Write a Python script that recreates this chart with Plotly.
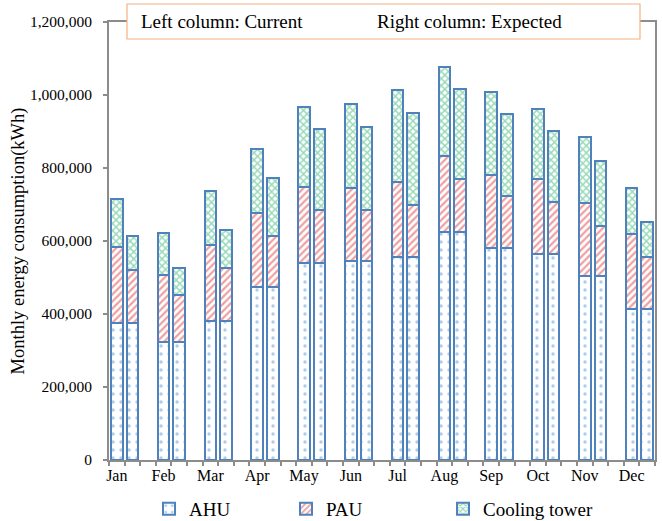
import plotly.graph_objects as go

months = ["Jan", "Feb", "Mar", "Apr", "May", "Jun", "Jul", "Aug", "Sep", "Oct", "Nov", "Dec"]

# kWh (AHU is the same in both columns)
ahu = [376000, 322000, 382000, 474000, 541000, 546000, 556000, 625000, 582000, 564000, 504000, 414000]
pau_current = [207000, 186000, 206000, 202000, 207000, 198000, 205000, 207000, 200000, 206000, 199000, 205000]
pau_expected = [145000, 129000, 145000, 140000, 144000, 139000, 142000, 144000, 140000, 144000, 138000, 143000]
ct_current = [131000, 113000, 150000, 176000, 220000, 230000, 254000, 246000, 227000, 193000, 182000, 125000]
ct_expected = [93000, 75000, 103000, 159000, 221000, 228000, 254000, 247000, 227000, 194000, 176000, 94000]

series_names = ["AHU", "PAU", "Cooling tower"]

# positions: current column, expected column, empty slot per month
x_pos = []
for m in range(len(months)):
    x_pos += [3 * m, 3 * m + 1]


def interleave(cur, exp):
    out = []
    for a, b in zip(cur, exp):
        out += [a, b]
    return out


ahu_vals = interleave(ahu, ahu)
pau_vals = interleave(pau_current, pau_expected)
ct_vals = interleave(ct_current, ct_expected)

border = "#4F81BD"
font_family = "Liberation Serif, Times New Roman, serif"

fig = go.Figure()
styles = [
    (ahu_vals, dict(shape=".", fgcolor="#5B9BD5", bgcolor="white", size=8, solidity=0.15), "legend"),
    (pau_vals, dict(shape="/", fgcolor="#E04040", bgcolor="white", size=5, solidity=0.45), "legend2"),
    (ct_vals, dict(shape="x", fgcolor="#35B572", bgcolor="white", size=5, solidity=0.5), "legend3"),
]
for name, (vals, pat, lg) in zip(series_names, styles):
    fig.add_trace(go.Bar(
        x=x_pos, y=vals, name=name, width=0.74, showlegend=True,
        marker=dict(color="white", pattern=pat, line=dict(color=border, width=2)),
        legend=lg,
    ))

axis_gray = "#8C8C8C"
PLOT_L, PLOT_W, PLOT_B, PLOT_H = 109, 546, 460, 438


def px_x(px):
    return (px - PLOT_L) / PLOT_W


def px_y(py):
    return (PLOT_B - py) / PLOT_H


leg_common = dict(y=px_y(509), xanchor="left", yanchor="middle",
                  font=dict(size=19), bgcolor="rgba(0,0,0,0)")
fig.update_layout(
    width=662, height=521,
    margin=dict(l=109, r=7, t=22, b=61, autoexpand=False),
    barmode="stack",
    showlegend=True,
    plot_bgcolor="white", paper_bgcolor="white",
    font=dict(family=font_family, color="black", size=15.5),
    xaxis=dict(
        range=[-0.5, 34.5],
        tickmode="array", tickvals=[3 * m for m in range(len(months))], ticktext=months,
        ticks="", showgrid=False, zeroline=False,
        showline=True, linecolor=axis_gray, linewidth=2, mirror=True,
        tickfont=dict(size=16),
        minor=dict(tickmode="linear", tick0=-0.5, dtick=1, ticks="outside", ticklen=4,
                   tickcolor=axis_gray, tickwidth=1.5, showgrid=False),
    ),
    yaxis=dict(
        range=[0, 1200000], dtick=200000, tickformat=",",
        ticks="outside", ticklen=4, tickcolor=axis_gray, tickwidth=1.5,
        showgrid=False, zeroline=False,
        showline=True, linecolor=axis_gray, linewidth=2, mirror=True,
        tickfont=dict(size=15.5), ticklabelstandoff=8,
        title=dict(text="Monthly energy consumption(kWh)", font=dict(size=18.5), standoff=0),
    ),
    legend=dict(x=px_x(149), **leg_common),
    legend2=dict(x=px_x(286), **leg_common),
    legend3=dict(x=px_x(443), **leg_common),
)

fig.add_shape(type="rect", xref="paper", yref="paper",
              x0=px_x(127), x1=px_x(640), y0=px_y(39), y1=px_y(4),
              line=dict(color="#F4B183", width=1.2), fillcolor="white", layer="above")
fig.add_annotation(text="Left column: Current", xref="paper", yref="paper",
                   x=px_x(139), y=px_y(21.5), xanchor="left", yanchor="middle",
                   showarrow=False, font=dict(size=19))
fig.add_annotation(text="Right column: Expected", xref="paper", yref="paper",
                   x=px_x(375), y=px_y(21.5), xanchor="left", yanchor="middle",
                   showarrow=False, font=dict(size=19))

fig.write_html("out.html")
